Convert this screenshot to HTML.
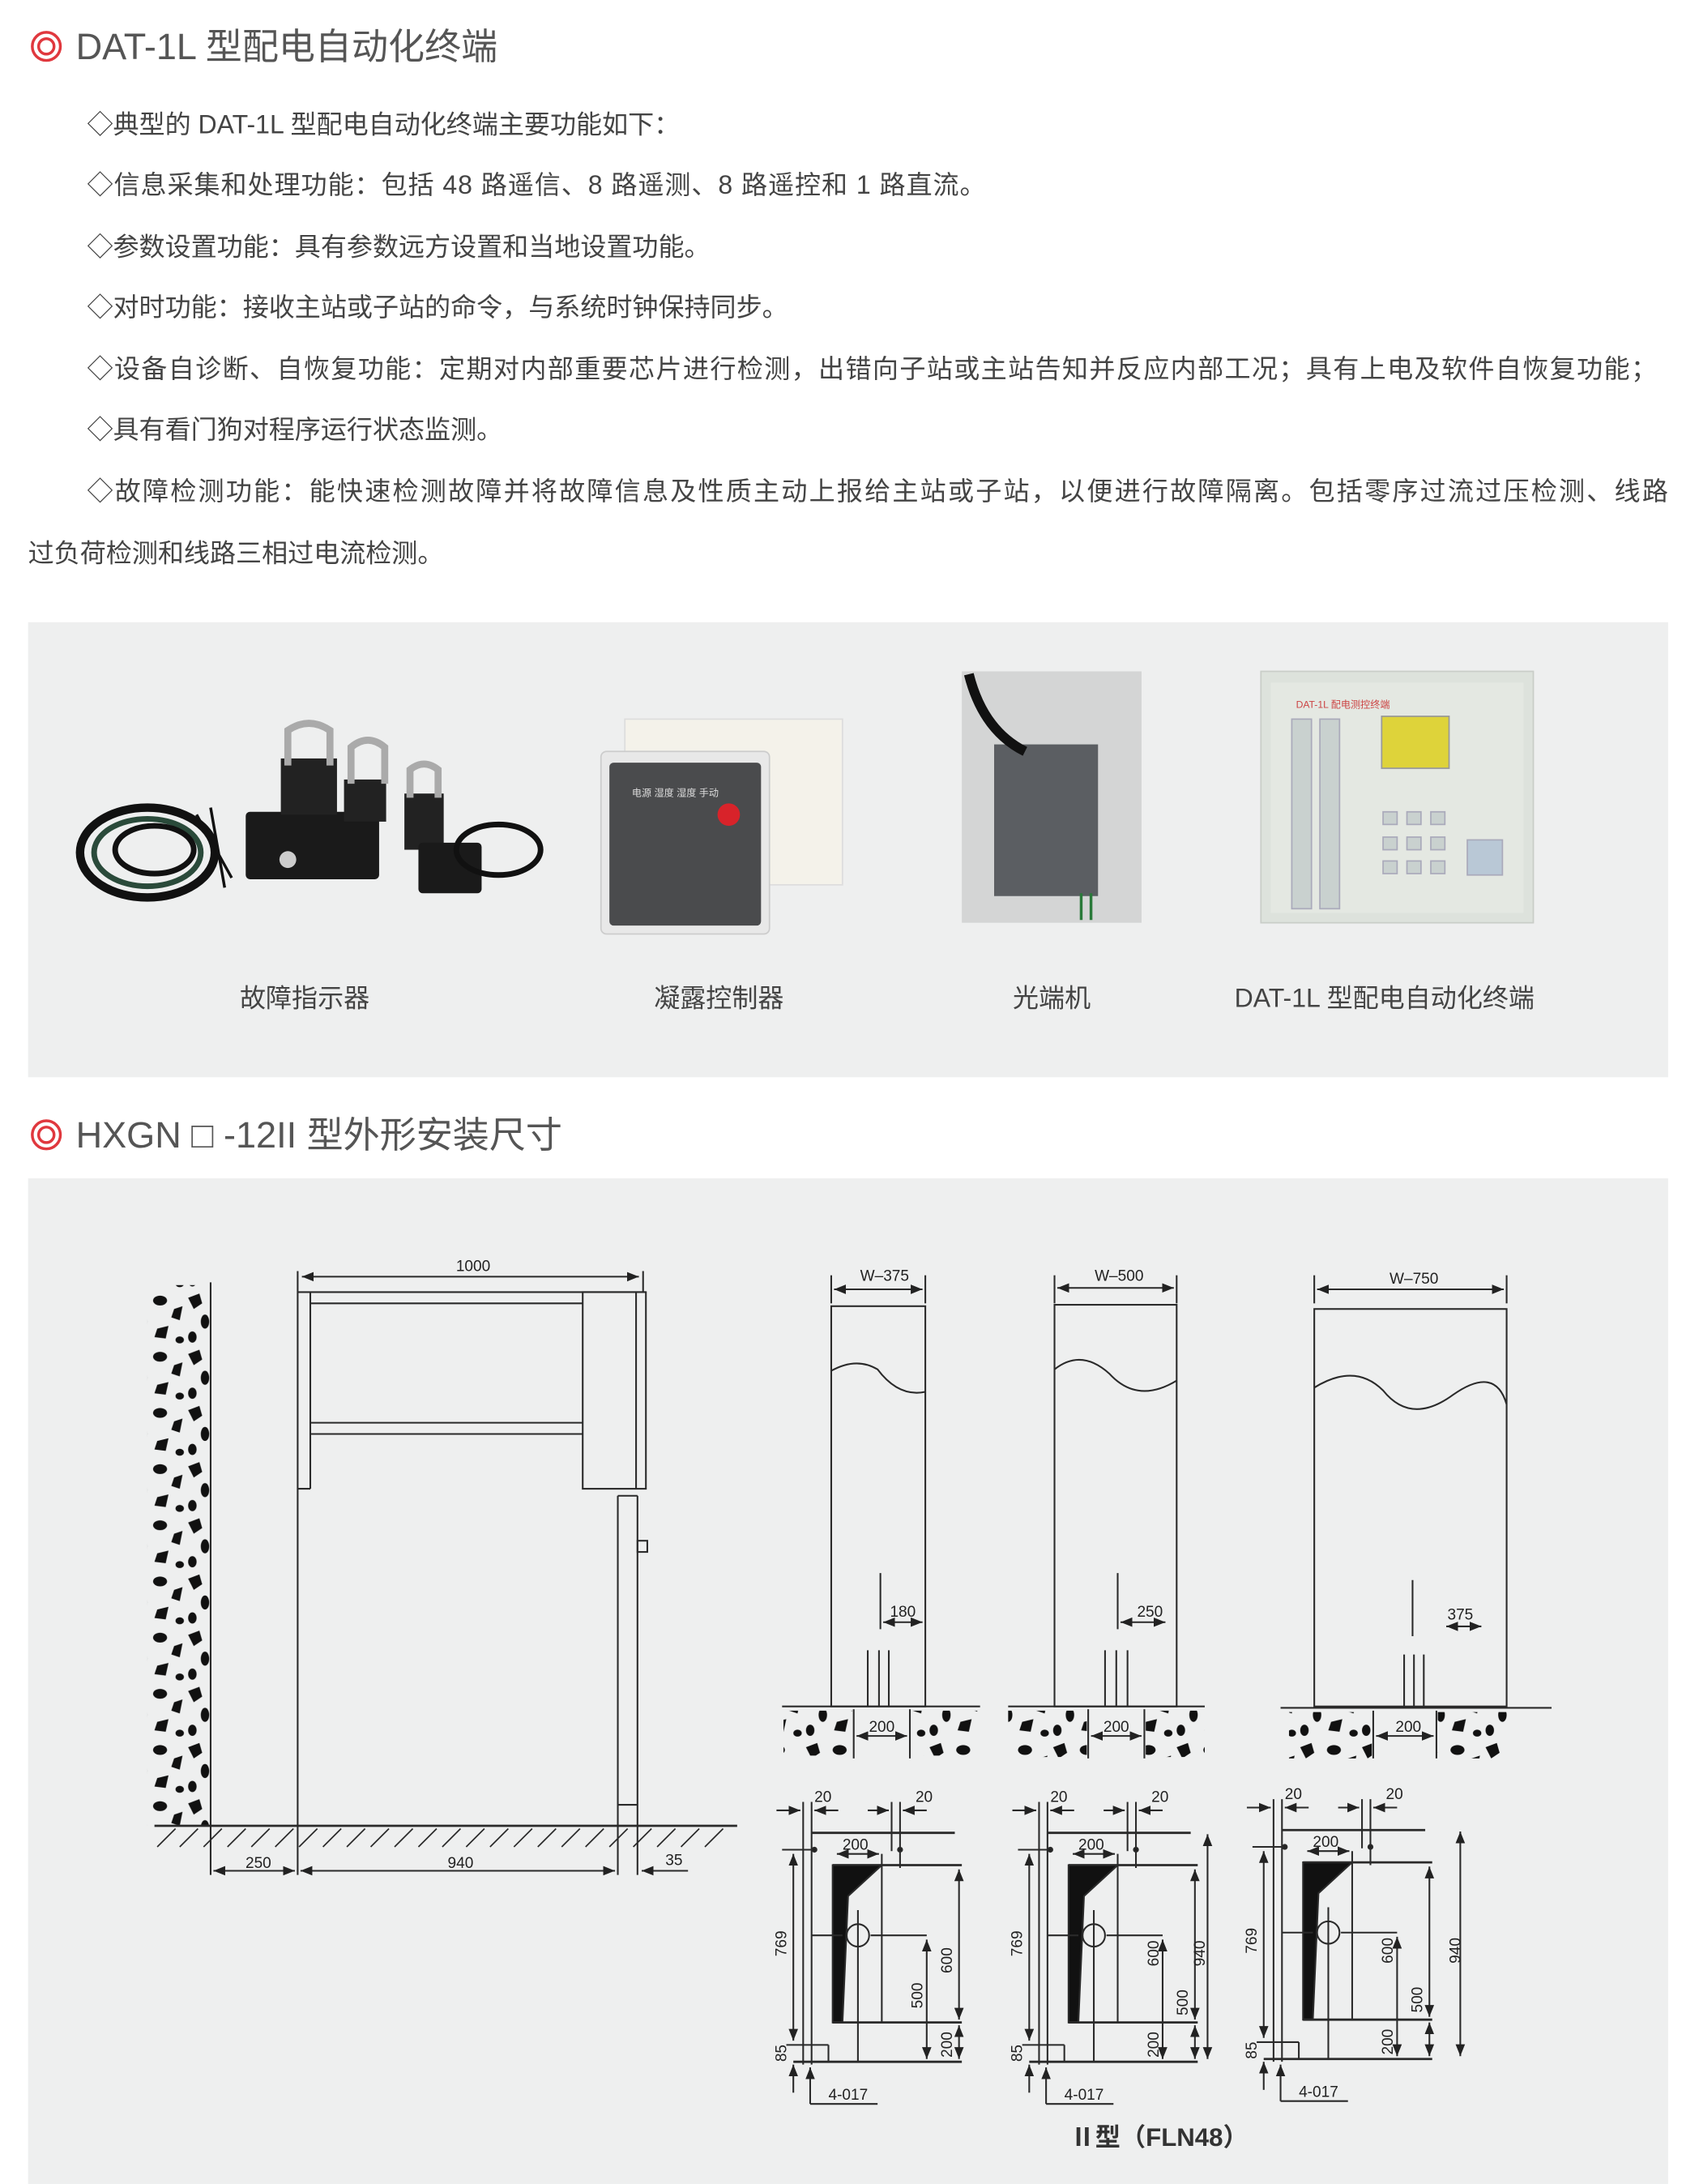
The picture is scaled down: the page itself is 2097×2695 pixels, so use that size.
<!DOCTYPE html>
<html><head><meta charset="utf-8"><style>
html,body{margin:0;padding:0;background:#fff}
svg{display:block}
text{font-family:"Liberation Sans","Noto Sans CJK SC",sans-serif}
</style></head><body>
<svg width="2097" height="2695" viewBox="0 0 1210 1555" xmlns="http://www.w3.org/2000/svg">
<defs>
<pattern id="grav" width="44" height="40" patternUnits="userSpaceOnUse">
<path d="M2 4 L10 1 L12 8 L6 12 Z" fill="#111"/>
<ellipse cx="26" cy="6" rx="5" ry="3.5" fill="#111"/>
<path d="M36 12 L42 10 L40 20 L34 18 Z" fill="#111"/>
<ellipse cx="14" cy="21" rx="3" ry="5" fill="#111"/>
<path d="M24 26 L32 24 L30 33 L22 32 Z" fill="#111"/>
<ellipse cx="5" cy="32" rx="3" ry="4" fill="#111"/>
<ellipse cx="40" cy="34" rx="3" ry="2.5" fill="#111"/>
</pattern>
<marker id="ar" viewBox="0 0 10 10" refX="10" refY="5" markerWidth="7" markerHeight="7" orient="auto-start-reverse"><path d="M0,1 L10,5 L0,9 z" fill="#222"/></marker>
</defs>

<circle cx="33" cy="33" r="10" fill="none" stroke="#e0383e" stroke-width="2"/>
<circle cx="33" cy="33" r="5.5" fill="none" stroke="#e0383e" stroke-width="2"/>
<text x="54" y="42" font-size="26" fill="#555">DAT-1L 型配电自动化终端</text>

<g font-size="18.5" fill="#444">
<text x="62" y="95">◇典型的 DAT-1L 型配电自动化终端主要功能如下：</text>
<text x="62" y="138" textLength="640">◇信息采集和处理功能：包括 48 路遥信、8 路遥测、8 路遥控和 1 路直流。</text>
<text x="62" y="182">◇参数设置功能：具有参数远方设置和当地设置功能。</text>
<text x="62" y="225">◇对时功能：接收主站或子站的命令，与系统时钟保持同步。</text>
<text x="62" y="269" textLength="1118">◇设备自诊断、自恢复功能：定期对内部重要芯片进行检测，出错向子站或主站告知并反应内部工况；具有上电及软件自恢复功能；</text>
<text x="62" y="312">◇具有看门狗对程序运行状态监测。</text>
<text x="62" y="356" textLength="1126">◇故障检测功能：能快速检测故障并将故障信息及性质主动上报给主站或子站，以便进行故障隔离。包括零序过流过压检测、线路</text>
<text x="20" y="400">过负荷检测和线路三相过电流检测。</text>
</g>

<rect x="20" y="443" width="1168" height="324" fill="#eeefef"/>
<g>
<ellipse cx="105" cy="607" rx="48" ry="32" fill="none" stroke="#111" stroke-width="6"/>
<ellipse cx="105" cy="607" rx="38" ry="24" fill="none" stroke="#2a4a3a" stroke-width="4"/>
<ellipse cx="110" cy="605" rx="28" ry="17" fill="none" stroke="#111" stroke-width="4"/>
<path d="M140 580 L165 625 M150 575 L160 632" stroke="#111" stroke-width="2"/>
<rect x="175" y="578" width="95" height="48" rx="3" fill="#1a1a1a"/>
<rect x="200" y="540" width="40" height="40" fill="#222"/>
<path d="M205 545 L205 520 Q220 510 235 520 L235 545" fill="none" stroke="#aaa" stroke-width="5"/>
<rect x="245" y="555" width="30" height="30" fill="#222"/>
<path d="M250 558 L250 532 Q262 522 274 532 L274 558" fill="none" stroke="#aaa" stroke-width="5"/>
<rect x="288" y="565" width="28" height="40" fill="#222"/>
<path d="M292 568 L292 548 Q302 540 312 548 L312 568" fill="none" stroke="#aaa" stroke-width="5"/>
<rect x="298" y="600" width="45" height="36" rx="3" fill="#1a1a1a"/>
<ellipse cx="355" cy="605" rx="30" ry="18" fill="none" stroke="#111" stroke-width="4"/>
<circle cx="205" cy="612" r="6" fill="#ccc"/>
</g>
<rect x="445" y="512" width="155" height="118" fill="#f4f2ea" stroke="#ddd"/>
<rect x="428" y="535" width="120" height="130" rx="4" fill="#e8e8e8" stroke="#ccc"/>
<rect x="434" y="543" width="108" height="116" rx="3" fill="#4a4b4d"/>
<circle cx="519" cy="580" r="8" fill="#d8232a"/>
<text x="450" y="567" font-size="7" fill="#ddd">电源  湿度  湿度  手动</text>
<rect x="685" y="478" width="128" height="179" fill="#d4d5d5"/>
<rect x="708" y="530" width="74" height="108" fill="#5b5e62"/>
<path d="M690 480 Q700 520 730 535" stroke="#111" stroke-width="7" fill="none"/>
<path d="M770 636 L770 655 M777 636 L777 655" stroke="#2a7a3a" stroke-width="2"/>
<rect x="898" y="478" width="194" height="179" fill="#dde2dc" stroke="#c9cdc8"/>
<rect x="905" y="486" width="180" height="164" fill="#e4e8e2"/>
<rect x="984" y="510" width="48" height="37" fill="#ded33a" stroke="#999"/>
<g fill="#c9d1cf" stroke="#aab">
<rect x="920" y="512" width="14" height="135" /><rect x="940" y="512" width="14" height="135"/>
<rect x="985" y="578" width="10" height="9"/><rect x="1002" y="578" width="10" height="9"/><rect x="1019" y="578" width="10" height="9"/>
<rect x="985" y="596" width="10" height="9"/><rect x="1002" y="596" width="10" height="9"/><rect x="1019" y="596" width="10" height="9"/>
<rect x="985" y="613" width="10" height="9"/><rect x="1002" y="613" width="10" height="9"/><rect x="1019" y="613" width="10" height="9"/>
<rect x="1045" y="598" width="25" height="25" fill="#b9c8d6"/>
</g>
<text x="923" y="504" font-size="7" fill="#c44">DAT-1L 配电测控终端</text>
<g font-size="18.5" fill="#444" text-anchor="middle">
<text x="217" y="717">故障指示器</text>
<text x="512" y="717">凝露控制器</text>
<text x="749" y="717">光端机</text>
<text x="986" y="717">DAT-1L 型配电自动化终端</text>
</g>

<circle cx="33" cy="808" r="10" fill="none" stroke="#e0383e" stroke-width="2"/>
<circle cx="33" cy="808" r="5.5" fill="none" stroke="#e0383e" stroke-width="2"/>
<text x="54" y="817" font-size="26" fill="#555">HXGN □ -12II 型外形安装尺寸</text>

<rect x="20" y="839" width="1168" height="716" fill="#eeefef"/>

<g stroke="#2a2a2a" stroke-width="1.2" fill="none">
<rect x="105" y="915" width="45" height="385" fill="url(#grav)" stroke="none"/>
<line x1="150" y1="913" x2="150" y2="1335"/>
<line x1="212" y1="905" x2="212" y2="1335"/>
<line x1="458" y1="905" x2="458" y2="920"/>
<line x1="212" y1="920" x2="460" y2="920"/>
<line x1="221" y1="920" x2="221" y2="1060"/>
<line x1="212" y1="1060" x2="221" y2="1060"/>
<line x1="221" y1="928" x2="415" y2="928"/>
<line x1="221" y1="1013" x2="415" y2="1013"/>
<line x1="221" y1="1021" x2="415" y2="1021"/>
<rect x="415" y="920" width="45" height="140"/>
<line x1="453" y1="920" x2="453" y2="1060"/>
<line x1="440" y1="1065" x2="440" y2="1335"/>
<line x1="440" y1="1065" x2="454" y2="1065"/>
<line x1="454" y1="1065" x2="454" y2="1335"/>
<line x1="440" y1="1285" x2="454" y2="1285"/>
<rect x="454" y="1097" width="7" height="8"/>
<line x1="110" y1="1300" x2="525" y2="1300" stroke-width="1.6"/>
<line x1="215" y1="909" x2="455" y2="909" marker-start="url(#ar)" marker-end="url(#ar)"/>
<line x1="152" y1="1332" x2="210" y2="1332" marker-start="url(#ar)" marker-end="url(#ar)"/>
<line x1="214" y1="1332" x2="438" y2="1332" marker-start="url(#ar)" marker-end="url(#ar)"/>
<line x1="490" y1="1332" x2="457" y2="1332" marker-end="url(#ar)"/>
</g>
<g stroke="#2a2a2a" stroke-width="1">
<path d="M145 1315 L158 1302 M162 1315 L175 1302 M179 1315 L192 1302 M196 1315 L209 1302 M213 1315 L226 1302 M230 1315 L243 1302 M247 1315 L260 1302 M264 1315 L277 1302 M281 1315 L294 1302 M298 1315 L311 1302 M315 1315 L328 1302 M332 1315 L345 1302 M349 1315 L362 1302 M366 1315 L379 1302 M383 1315 L396 1302 M400 1315 L413 1302 M417 1315 L430 1302 M434 1315 L447 1302 M451 1315 L464 1302 M468 1315 L481 1302 M485 1315 L498 1302 M502 1315 L515 1302 M128 1315 L141 1302 M112 1315 L125 1302"/>
</g>
<g font-size="11" fill="#222" text-anchor="middle">
<text x="337" y="905">1000</text>
<text x="184" y="1330">250</text>
<text x="328" y="1330">940</text>
<text x="480" y="1328">35</text>
</g>

<g stroke="#2a2a2a" stroke-width="1.2" fill="none">
<rect x="592" y="930" width="67" height="285"/>
<line x1="592" y1="908" x2="592" y2="928"/><line x1="659" y1="908" x2="659" y2="928"/>
<line x1="594" y1="918" x2="657" y2="918" marker-start="url(#ar)" marker-end="url(#ar)"/>
<path d="M592 976 Q610 966 625 975 Q640 995 659 991"/>
<line x1="557" y1="1215" x2="698" y2="1215"/>
<line x1="618" y1="1175" x2="618" y2="1215"/><line x1="626" y1="1175" x2="626" y2="1215"/><line x1="633" y1="1175" x2="633" y2="1215"/>
<line x1="627" y1="1120" x2="627" y2="1160"/>
<line x1="629" y1="1155" x2="657" y2="1155" marker-start="url(#ar)" marker-end="url(#ar)"/>
<line x1="608" y1="1217" x2="608" y2="1252"/><line x1="648" y1="1217" x2="648" y2="1252"/>
<line x1="610" y1="1236" x2="646" y2="1236" marker-start="url(#ar)" marker-end="url(#ar)"/>
<rect x="751" y="929" width="87" height="286"/>
<line x1="751" y1="908" x2="751" y2="928"/><line x1="838" y1="908" x2="838" y2="928"/>
<line x1="753" y1="917" x2="836" y2="917" marker-start="url(#ar)" marker-end="url(#ar)"/>
<path d="M751 975 Q770 960 790 978 Q810 1000 838 983"/>
<line x1="718" y1="1215" x2="858" y2="1215"/>
<line x1="787" y1="1175" x2="787" y2="1215"/><line x1="795" y1="1175" x2="795" y2="1215"/><line x1="803" y1="1175" x2="803" y2="1215"/>
<line x1="796" y1="1120" x2="796" y2="1160"/>
<line x1="798" y1="1155" x2="830" y2="1155" marker-start="url(#ar)" marker-end="url(#ar)"/>
<line x1="775" y1="1217" x2="775" y2="1252"/><line x1="815" y1="1217" x2="815" y2="1252"/>
<line x1="777" y1="1236" x2="813" y2="1236" marker-start="url(#ar)" marker-end="url(#ar)"/>
<rect x="936" y="932" width="137" height="283"/>
<line x1="936" y1="908" x2="936" y2="928"/><line x1="1073" y1="908" x2="1073" y2="928"/>
<line x1="938" y1="918" x2="1071" y2="918" marker-start="url(#ar)" marker-end="url(#ar)"/>
<path d="M936 988 Q965 970 985 990 Q1005 1015 1035 993 Q1065 972 1073 1000"/>
<line x1="912" y1="1216" x2="1105" y2="1216"/>
<line x1="1000" y1="1178" x2="1000" y2="1216"/><line x1="1007" y1="1178" x2="1007" y2="1216"/><line x1="1014" y1="1178" x2="1014" y2="1216"/>
<line x1="1006" y1="1125" x2="1006" y2="1165"/>
<line x1="1030" y1="1158" x2="1055" y2="1158" marker-start="url(#ar)" marker-end="url(#ar)"/>
<line x1="978" y1="1218" x2="978" y2="1252"/><line x1="1023" y1="1218" x2="1023" y2="1252"/>
<line x1="980" y1="1236" x2="1021" y2="1236" marker-start="url(#ar)" marker-end="url(#ar)"/>
</g>
<g fill="url(#grav)">
<rect x="558" y="1218" width="49" height="32"/><rect x="649" y="1218" width="47" height="32"/>
<rect x="718" y="1218" width="56" height="33"/><rect x="816" y="1218" width="42" height="33"/>
<rect x="918" y="1219" width="59" height="33"/><rect x="1024" y="1219" width="50" height="33"/>
</g>
<g font-size="11" fill="#222" text-anchor="middle">
<text x="630" y="912">W–375</text><text x="797" y="912">W–500</text><text x="1007" y="914">W–750</text>
<text x="643" y="1151">180</text><text x="819" y="1151">250</text><text x="1040" y="1153">375</text>
<text x="628" y="1233">200</text><text x="795" y="1233">200</text><text x="1003" y="1233">200</text>
</g>

<g id="plan1" stroke="#2a2a2a" stroke-width="1.2" fill="none">
<line x1="572" y1="1283" x2="572" y2="1470"/><line x1="578" y1="1283" x2="578" y2="1470"/>
<line x1="635" y1="1283" x2="635" y2="1318"/><line x1="641" y1="1283" x2="641" y2="1330"/>
<line x1="553" y1="1289" x2="570" y2="1289" marker-end="url(#ar)"/><line x1="597" y1="1289" x2="580" y2="1289" marker-end="url(#ar)"/>
<line x1="618" y1="1289" x2="633" y2="1289" marker-end="url(#ar)"/><line x1="660" y1="1289" x2="643" y2="1289" marker-end="url(#ar)"/>
<line x1="578" y1="1305" x2="680" y2="1305" stroke-width="1.6"/>
<line x1="557" y1="1317" x2="580" y2="1317"/>
<circle cx="580" cy="1317" r="1.5" fill="#222"/><circle cx="641" cy="1317" r="1.5" fill="#222"/>
<line x1="596" y1="1320" x2="626" y2="1320" marker-start="url(#ar)" marker-end="url(#ar)"/>
<line x1="593" y1="1328" x2="685" y2="1328" stroke-width="1.6"/>
<path d="M593 1328 L628 1328 L604 1350 L600 1440 L593 1440 Z" fill="#111"/>
<line x1="593" y1="1440" x2="685" y2="1440" stroke-width="1.6"/>
<line x1="628" y1="1320" x2="628" y2="1440"/>
<line x1="611" y1="1360" x2="611" y2="1468"/>
<circle cx="611" cy="1378" r="8"/>
<line x1="578" y1="1378" x2="600" y2="1378"/><line x1="620" y1="1378" x2="660" y2="1378"/>
<line x1="565" y1="1468" x2="685" y2="1468" stroke-width="1.6"/>
<line x1="565" y1="1320" x2="565" y2="1453" marker-start="url(#ar)" marker-end="url(#ar)"/>
<line x1="560" y1="1456" x2="590" y2="1456"/><line x1="590" y1="1456" x2="590" y2="1468"/>
<line x1="565" y1="1490" x2="565" y2="1470" marker-end="url(#ar)"/>
<line x1="660" y1="1381" x2="660" y2="1466" marker-start="url(#ar)" marker-end="url(#ar)"/>
<line x1="683" y1="1331" x2="683" y2="1438" marker-start="url(#ar)" marker-end="url(#ar)"/>
<line x1="683" y1="1442" x2="683" y2="1466" marker-start="url(#ar)" marker-end="url(#ar)"/>
<line x1="577" y1="1498" x2="577" y2="1472" marker-end="url(#ar)"/>
<line x1="577" y1="1498" x2="625" y2="1498"/>
</g>
<g font-size="11" fill="#222">
<text x="580" y="1283">20</text><text x="652" y="1283">20</text>
<text x="600" y="1317">200</text>
<text x="590" y="1495">4-017</text>
<text transform="translate(560,1393) rotate(-90)">769</text>
<text transform="translate(560,1468) rotate(-90)">85</text>
<text transform="translate(657,1430) rotate(-90)">500</text>
<text transform="translate(678,1405) rotate(-90)">600</text>
<text transform="translate(678,1465) rotate(-90)">200</text>
</g>

<g transform="translate(168,0)">
<use href="#plan1"/>
<g font-size="11" fill="#222">
<text x="580" y="1283">20</text><text x="652" y="1283">20</text>
<text x="600" y="1317">200</text>
<text x="590" y="1495">4-017</text>
<text transform="translate(560,1393) rotate(-90)">769</text>
<text transform="translate(560,1468) rotate(-90)">85</text>
<text transform="translate(657,1400) rotate(-90)">600</text>
<text transform="translate(678,1435) rotate(-90)">500</text>
<text transform="translate(657,1465) rotate(-90)">200</text>
<text transform="translate(690,1400) rotate(-90)">940</text>
</g>
<line x1="692" y1="1306" x2="692" y2="1466" stroke="#2a2a2a" stroke-width="1.2" marker-start="url(#ar)" marker-end="url(#ar)"/>
</g>
<g transform="translate(335,-2)">
<use href="#plan1"/>
<g font-size="11" fill="#222">
<text x="580" y="1283">20</text><text x="652" y="1283">20</text>
<text x="600" y="1317">200</text>
<text x="590" y="1495">4-017</text>
<text transform="translate(560,1393) rotate(-90)">769</text>
<text transform="translate(560,1468) rotate(-90)">85</text>
<text transform="translate(657,1400) rotate(-90)">600</text>
<text transform="translate(678,1435) rotate(-90)">500</text>
<text transform="translate(657,1465) rotate(-90)">200</text>
<text transform="translate(705,1400) rotate(-90)">940</text>
</g>
<line x1="705" y1="1306" x2="705" y2="1466" stroke="#2a2a2a" stroke-width="1.2" marker-start="url(#ar)" marker-end="url(#ar)"/>
</g>

<text x="762" y="1528" font-size="18" font-weight="bold" fill="#333">Ⅱ型（FLN48）</text>
</svg>
</body></html>
